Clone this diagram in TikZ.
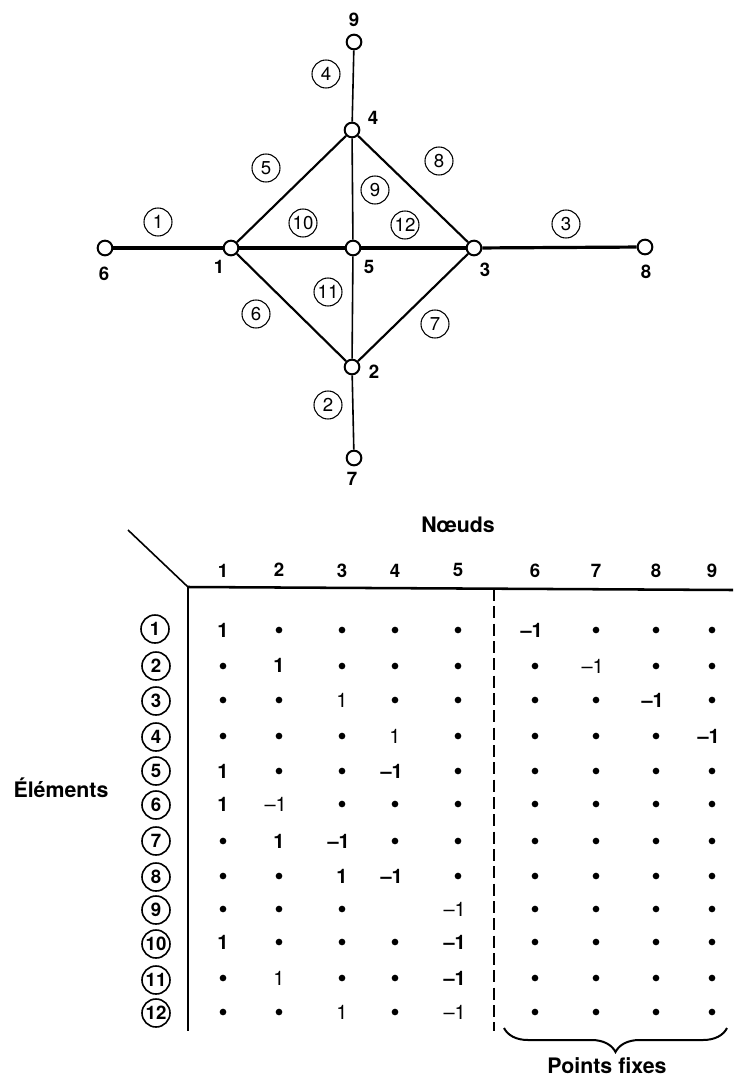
\documentclass[tikz,border=0pt]{standalone}
\usepackage{fontspec}
\setmainfont{TeX Gyre Heros}
\usetikzlibrary{decorations.pathreplacing,calc}
\tikzstyle{knot} = [circle, draw=black, line width=1.5pt, fill=white, inner sep=0pt, minimum size=11pt]
\tikzstyle{elt} = [circle, draw=black, line width=0.8pt, inner sep=0pt, minimum size=21pt, font=\fontsize{14}{16}\selectfont]
\tikzstyle{row} = [elt, line width=1.2pt, font=\fontsize{14}{16}\selectfont\bfseries]
\tikzstyle{lbl} = [inner sep=0pt, font=\fontsize{14}{16}\selectfont\bfseries]
\tikzstyle{pt} = [circle, fill=black, inner sep=0pt, minimum size=5pt]
\tikzstyle{val} = [inner sep=0pt, font=\fontsize{15}{17}\selectfont]
\tikzstyle{neg} = [val, xshift=-2.5pt]
\tikzstyle{title} = [inner sep=0pt, font=\fontsize{16}{18}\selectfont\bfseries]
\tikzstyle{bar} = [line width=2.4pt]
\tikzstyle{midbar} = [line width=1.6pt]
\tikzstyle{thinbar} = [line width=1.2pt]
\def\colA{223}\def\colB{279}\def\colC{342}\def\colD{395}\def\colE{458}
\def\colF{535}\def\colG{596}\def\colH{656}\def\colI{712}
\begin{document}
\begin{tikzpicture}[x=0.75pt,y=-0.75pt]
\useasboundingbox (0,0) rectangle (733,1077);
%graph
\node[knot] (n1) at (231,248) {};
\node[knot] (n2) at (352,367) {};
\node[knot] (n3) at (474,248) {};
\node[knot] (n4) at (352,130) {};
\node[knot] (n5) at (353,248) {};
\node[knot] (n6) at (105,248) {};
\node[knot] (n7) at (354,458) {};
\node[knot] (n8) at (645,247) {};
\node[knot] (n9) at (354,42) {};
\draw[bar] (n6)--(n1);
\draw[bar] (n1)--(n5);
\draw[bar] (n5)--(n3);
\draw[bar] (n3)--(n8);
\draw[thinbar] (n9)--(n4);
\draw[thinbar] (n4)--(n5);
\draw[thinbar] (n5)--(n2);
\draw[thinbar] (n2)--(n7);
\draw[midbar] (n1)--(n4);
\draw[midbar] (n4)--(n3);
\draw[midbar] (n3)--(n2);
\draw[midbar] (n2)--(n1);
\node[lbl] (l1) at (219,267) {1};
\node[lbl] (l2) at (374,372) {2};
\node[lbl] (l3) at (485,270) {3};
\node[lbl] (l4) at (373,118) {4};
\node[lbl] (l5) at (369,267) {5};
\node[lbl] (l6) at (104,274) {6};
\node[lbl] (l7) at (352,479) {7};
\node[lbl] (l8) at (646,272) {8};
\node[lbl] (l9) at (354,20) {9};
\node[elt] (e1) at (158,222) {1};
\node[elt] (e2) at (328,405) {2};
\node[elt] (e3) at (566,224) {3};
\node[elt] (e4) at (326,74) {4};
\node[elt] (e5) at (266,168) {5};
\node[elt] (e6) at (256,314) {6};
\node[elt] (e7) at (435,324) {7};
\node[elt] (e8) at (439,161) {8};
\node[elt] (e9) at (375,190) {9};
\node[elt] (e10) at (303,223) {10};
\node[elt] (e11) at (328,292) {11};
\node[elt] (e12) at (405,225) {12};
%table
\node[title] (nd) at (458,525) {Nœuds};
\node[title] (el) at (61,788) {Éléments};
\node[title] (pf) at (607,1066) {Points fixes};
\coordinate (c0) at (188,587);
\coordinate (c1) at (128,530);
\coordinate (c2) at (733,590);
\coordinate (c3) at (188,1031);
\coordinate (d0) at (494,589);
\coordinate (d1) at (494,1031);
\coordinate (b0) at (504,1028);
\coordinate (b1) at (727,1028);
\draw[thinbar] (c1)--(c0);
\draw[line width=1.9pt] (c0)--(c2);
\draw[midbar] (c0)--(c3);
\draw[line width=0.9pt,dash pattern=on 9pt off 4pt] (d0)--(d1);
\draw[line width=1.5pt,decorate,decoration={brace,mirror,amplitude=18pt}] (b0)--(b1);
%head
\node[lbl] (h1) at (\colA,571) {1};
\node[lbl] (h2) at (\colB,570) {2};
\node[lbl] (h3) at (\colC,571) {3};
\node[lbl] (h4) at (\colD,571) {4};
\node[lbl] (h5) at (\colE,570) {5};
\node[lbl] (h6) at (\colF,571) {6};
\node[lbl] (h7) at (\colG,571) {7};
\node[lbl] (h8) at (\colH,571) {8};
\node[lbl] (h9) at (\colI,571) {9};
%rows
\node[row] (r1) at (155,629) {1};
\node[row] (r2) at (156,666) {2};
\node[row] (r3) at (156,701) {3};
\node[row] (r4) at (156,737) {4};
\node[row] (r5) at (156,771) {5};
\node[row] (r6) at (156,805) {6};
\node[row] (r7) at (156,841) {7};
\node[row] (r8) at (156,877) {8};
\node[row] (r9) at (156,910) {9};
\node[row] (r10) at (156,944) {10};
\node[row] (r11) at (156,980) {11};
\node[row] (r12) at (156,1013) {12};
%
\path (\colA,630) node[val] {\bfseries 1} (\colB,630) node[pt] {} (\colC,630) node[pt] {} (\colD,630) node[pt] {} (\colE,630) node[pt] {} (\colF,630) node[neg] {\bfseries --1} (\colG,630) node[pt] {} (\colH,630) node[pt] {} (\colI,630) node[pt] {};
\path (\colA,666) node[pt] {} (\colB,665) node[val] {\bfseries 1} (\colC,666) node[pt] {} (\colD,666) node[pt] {} (\colE,666) node[pt] {} (\colF,666) node[pt] {} (\colG,666) node[neg] {--1} (\colH,666) node[pt] {} (\colI,666) node[pt] {};
\path (\colA,700) node[pt] {} (\colB,700) node[pt] {} (\colC,700) node[val] {1} (\colD,700) node[pt] {} (\colE,700) node[pt] {} (\colF,700) node[pt] {} (\colG,700) node[pt] {} (\colH,700) node[neg] {\bfseries --1} (\colI,700) node[pt] {};
\path (\colA,736) node[pt] {} (\colB,736) node[pt] {} (\colC,736) node[pt] {} (\colD,736) node[val] {1} (\colE,736) node[pt] {} (\colF,736) node[pt] {} (\colG,736) node[pt] {} (\colH,736) node[pt] {} (\colI,736) node[neg] {\bfseries --1};
\path (\colA,771) node[val] {\bfseries 1} (\colB,771) node[pt] {} (\colC,771) node[pt] {} (\colD,771) node[neg] {\bfseries --1} (\colE,771) node[pt] {} (\colF,771) node[pt] {} (\colG,771) node[pt] {} (\colH,771) node[pt] {} (\colI,771) node[pt] {};
\path (\colA,804) node[val] {\bfseries 1} (\colB,804) node[neg] {--1} (\colC,804) node[pt] {} (\colD,804) node[pt] {} (\colE,804) node[pt] {} (\colF,804) node[pt] {} (\colG,804) node[pt] {} (\colH,804) node[pt] {} (\colI,804) node[pt] {};
\path (\colA,841) node[pt] {} (\colB,841) node[val] {\bfseries 1} (\colC,841) node[neg] {\bfseries --1} (\colD,841) node[pt] {} (\colE,841) node[pt] {} (\colF,841) node[pt] {} (\colG,841) node[pt] {} (\colH,841) node[pt] {} (\colI,841) node[pt] {};
\path (\colA,876) node[pt] {} (\colB,876) node[pt] {} (\colC,876) node[val] {\bfseries 1} (\colD,876) node[neg] {\bfseries --1} (\colE,876) node[pt] {} (\colF,876) node[pt] {} (\colG,876) node[pt] {} (\colH,876) node[pt] {} (\colI,876) node[pt] {};
\path (\colA,909) node[pt] {} (\colB,909) node[pt] {} (\colC,909) node[pt] {} (\colE,909) node[neg] {--1} (\colF,909) node[pt] {} (\colG,909) node[pt] {} (\colH,909) node[pt] {} (\colI,909) node[pt] {};
\path (\colA,942) node[val] {\bfseries 1} (\colB,942) node[pt] {} (\colC,942) node[pt] {} (\colD,942) node[pt] {} (\colE,942) node[neg] {\bfseries --1} (\colF,942) node[pt] {} (\colG,942) node[pt] {} (\colH,942) node[pt] {} (\colI,942) node[pt] {};
\path (\colA,978) node[pt] {} (\colB,978) node[val] {1} (\colC,978) node[pt] {} (\colD,978) node[pt] {} (\colE,978) node[neg] {\bfseries --1} (\colF,978) node[pt] {} (\colG,978) node[pt] {} (\colH,978) node[pt] {} (\colI,978) node[pt] {};
\path (\colA,1012) node[pt] {} (\colB,1012) node[pt] {} (\colC,1012) node[val] {1} (\colD,1012) node[pt] {} (\colE,1012) node[neg] {--1} (\colF,1012) node[pt] {} (\colG,1012) node[pt] {} (\colH,1012) node[pt] {} (\colI,1012) node[pt] {};
\end{tikzpicture}
\end{document}
